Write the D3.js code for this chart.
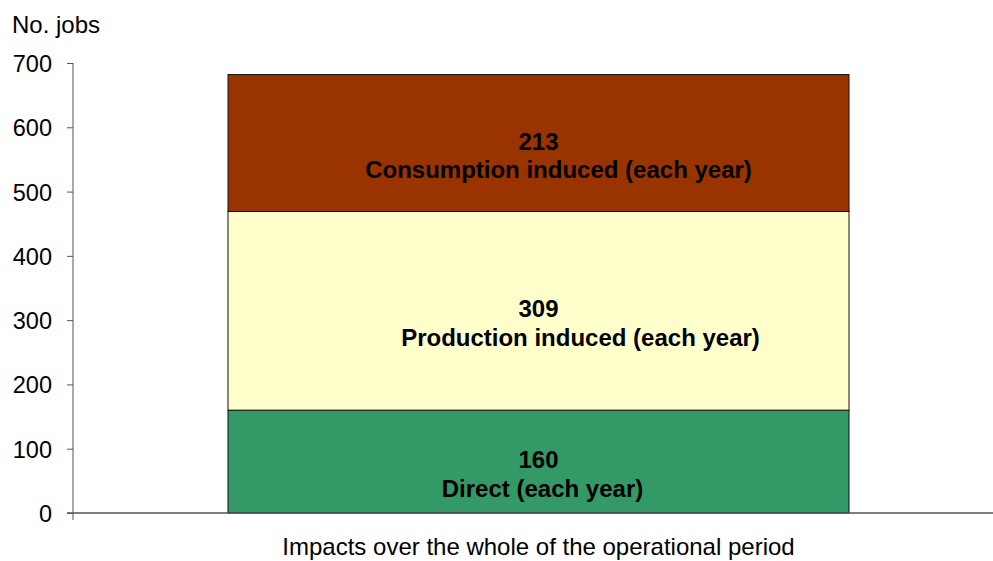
<!DOCTYPE html>
<html>
<head>
<meta charset="utf-8">
<script src="https://cdn.jsdelivr.net/npm/d3@7"></script>
<style>
  body { margin: 0; background: #fff; }
  svg { display: block; font-family: "Liberation Sans", Arial, sans-serif; }
  .tick text { font-size: 23.5px; fill: #000; }
  .label { font-weight: bold; font-size: 24px; fill: #000; }
</style>
</head>
<body>
<svg width="993" height="561"></svg>
<script>
'use strict';
// data
var category = 'Impacts over the whole of the operational period';
var seriesNames = ['Direct (each year)', 'Production induced (each year)', 'Consumption induced (each year)'];
var seriesValues = [160, 309, 213];
var seriesColors = ['#339966', '#FFFFCC', '#993300'];
var yTicks = [0, 100, 200, 300, 400, 500, 600, 700];

// the name line in Excel sits a bit right of centre
var nameShift = [4, 42, 20];

(() => {
  const svg = d3.select('svg');
  const left = 73, right = 993, top = 63, bottom = 513;

  var y = d3.scaleLinear().domain([0, 700]).range([bottom, top]);
  var x = d3.scaleBand().domain([category]).range([left, right]).paddingInner(0).paddingOuter(0.2);
  // bar is about 2/3 of the category slot
  var barW = 621;
  var cx = x(category) + x.bandwidth() / 2 + 5.5;

  var stacked = [];
  seriesValues.reduce((acc, v, i) => {
    stacked.push({ name: seriesNames[i], value: v, y0: acc, y1: acc + v, color: seriesColors[i], shift: nameShift[i] });
    return acc + v;
  }, 0);

  // y axis
  var gy = svg.append('g')
    .attr('transform', `translate(${left},0)`)
    .call(d3.axisLeft(y).tickValues(yTicks).tickSize(6).tickPadding(15).tickFormat(d3.format('d')));
  gy.select('.domain').attr('stroke', '#555').attr('d', `M0,${top}V${bottom + 7}`);
  gy.selectAll('.tick line').attr('stroke', '#555');
  gy.selectAll('.tick text').attr('dy', '0.36em');

  svg.append('text')
    .attr('x', 12).attr('y', 33)
    .attr('font-size', 24)
    .text('No. jobs');

  // bars
  var bars = svg.append('g').selectAll('g.seg').data(stacked).enter().append('g').attr('class', 'seg');
  bars.append('rect')
    .attr('x', cx - barW / 2)
    .attr('width', barW)
    .attr('y', d => y(d.y1))
    .attr('height', d => y(d.y0) - y(d.y1))
    .attr('fill', d => d.color)
    .attr('stroke', '#111')
    .attr('stroke-width', 1);

  bars.append('text')
    .attr('class', 'label')
    .attr('text-anchor', 'middle')
    .attr('x', cx)
    .attr('y', d => (y(d.y0) + y(d.y1)) / 2 + 6.5)
    .text(d => d.value);

  bars.append('text')
    .attr('class', 'label')
    .attr('text-anchor', 'middle')
    .attr('x', d => cx + d.shift)
    .attr('y', d => (y(d.y0) + y(d.y1)) / 2 + 35)
    .text(d => d.name);

  // x axis
  svg.append('line')
    .attr('x1', left - 6).attr('x2', right)
    .attr('y1', bottom).attr('y2', bottom)
    .attr('stroke', '#555').attr('stroke-width', 1.5);

  svg.append('text')
    .attr('x', cx).attr('y', 555)
    .attr('text-anchor', 'middle')
    .attr('font-size', 24)
    .text(category);
})();
</script>
</body>
</html>
